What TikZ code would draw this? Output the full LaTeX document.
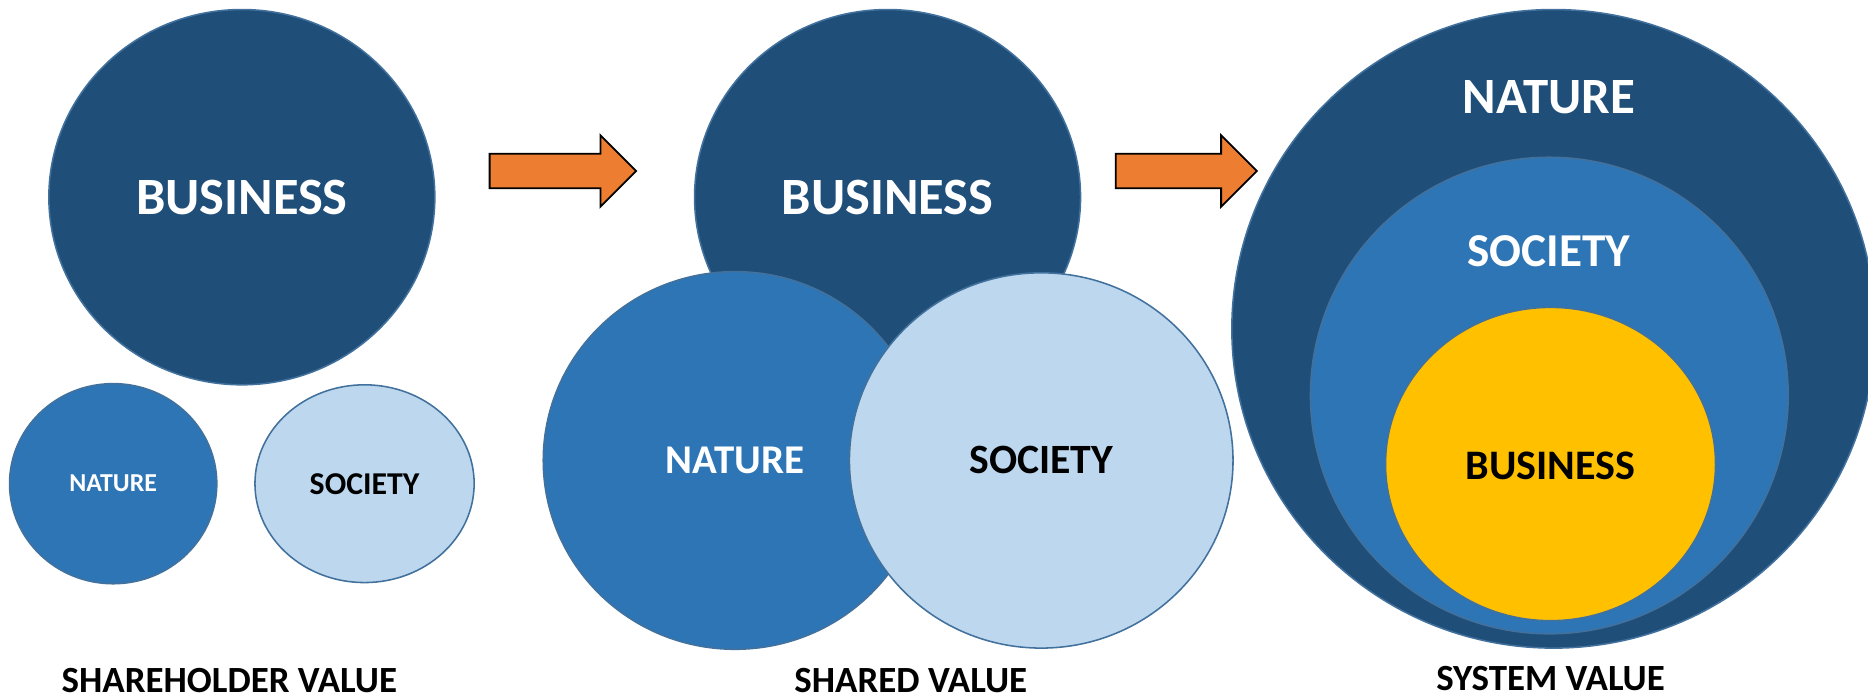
\documentclass[tikz,border=0pt]{standalone}
\usepackage{fontspec}
\setmainfont{Carlito}
\usetikzlibrary{shapes.geometric}
\definecolor{dkblue}{HTML}{1F4E79}
\definecolor{mdblue}{HTML}{2E75B6}
\definecolor{ltblue}{HTML}{BDD7EE}
\definecolor{gold}{HTML}{FFC000}
\definecolor{orng}{HTML}{ED7D31}
\definecolor{edgeblue}{HTML}{41719C}
\begin{document}
\begin{tikzpicture}[x=1pt,y=-1pt,
  blob/.style={ellipse, draw=edgeblue, line width=1.3pt, inner sep=0pt},
  fs/.style={font={\bfseries\fontsize{#1}{#1}\selectfont}},
  txt/.style={inner sep=0pt, text=#1},
  bigarrow/.style={fill=orng, draw=black, line width=1.5pt, line join=miter}
]
\useasboundingbox (0,0) rectangle (1568,587);
% ---------- panel 1 ----------
\node[blob, fill=dkblue, minimum width=324pt, minimum height=315pt, text=white, fs=44] (b1) at (203,165.5) {BUSINESS};
\node[blob, fill=mdblue, minimum width=174pt, minimum height=168pt, text=white, fs=21.7] (n1) at (95,406) {NATURE};
\node[blob, fill=ltblue, minimum width=184pt, minimum height=166pt, text=black, fs=26.7] (s1) at (306,406) {SOCIETY};
\node[txt=black, fs=31] (l1) at (192.5,571) {SHAREHOLDER VALUE};
% ---------- arrow 1 ----------
\draw[bigarrow] (411,129) -- (504,129) -- (504,113.5) -- (534,143.5) -- (504,173.5) -- (504,158) -- (411,158) -- cycle;
% ---------- panel 2 ----------
\node[blob, fill=dkblue, minimum width=324pt, minimum height=315pt, text=white, fs=44] (b2) at (745,165.5) {BUSINESS};
\node[blob, fill=mdblue, minimum width=322pt, minimum height=317pt, text=white, fs=34.3] (n2) at (617,386.5) {NATURE};
\node[blob, fill=ltblue, minimum width=322pt, minimum height=315pt, text=black, fs=35] (s2) at (874,386.5) {SOCIETY};
\node[txt=black, fs=31] (l2) at (764.5,571) {SHARED VALUE};
% ---------- arrow 2 ----------
\draw[bigarrow] (936.5,129) -- (1025,129) -- (1025,113.5) -- (1055,143.5) -- (1025,173.5) -- (1025,158) -- (936.5,158) -- cycle;
% ---------- panel 3 ----------
\node[blob, fill=dkblue, minimum width=540pt, minimum height=536pt] (n3) at (1304,276) {};
\node[blob, fill=mdblue, minimum width=401pt, minimum height=400pt] (s3) at (1300.5,332) {};
\node[blob, fill=gold, minimum width=277pt, minimum height=263pt] (b3) at (1301.5,389.5) {};
\node[txt=white, fs=42.7] (n3t) at (1300,81.5) {NATURE};
\node[txt=white, fs=39.6] (s3t) at (1300,211) {SOCIETY};
\node[txt=black, fs=35.3] (b3t) at (1301.5,391) {BUSINESS};
\node[txt=black, fs=31] (l3) at (1301.5,569.5) {SYSTEM VALUE};
\end{tikzpicture}
\end{document}
